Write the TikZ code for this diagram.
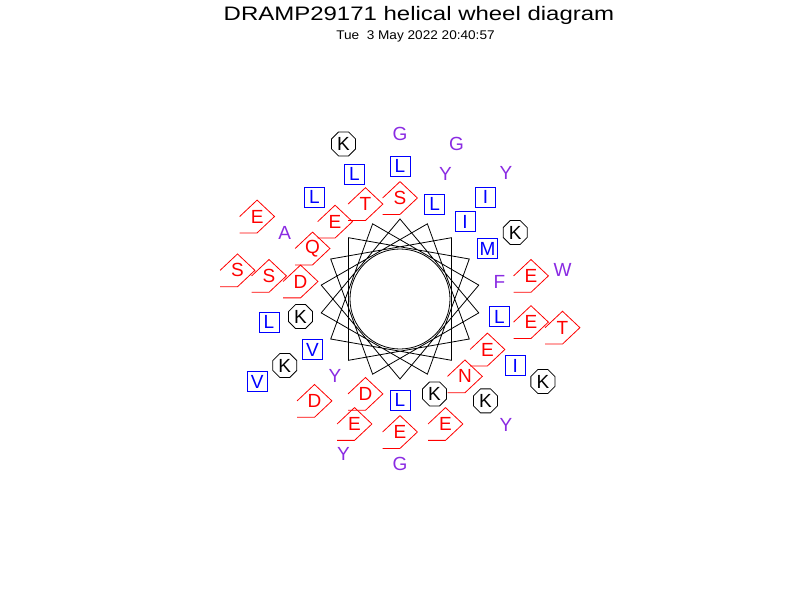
\documentclass[tikz,border=0pt]{standalone}
\usepackage{fontspec}
\setmainfont{Liberation Sans}
\usepackage{graphicx}
\usetikzlibrary{shapes.geometric}
\definecolor{wheelpurple}{RGB}{138,43,226}

\begin{document}
\begin{tikzpicture}[x = 1pt, y = 1pt, line width = .8pt,
    every node/.style = {inner sep = 0pt, font = \fontsize{19}{19}\selectfont},
    hyd/.style = {draw = blue, text = blue, minimum size = 20pt},
    chg/.style = {draw, regular polygon, regular polygon sides = 8, minimum size = 26pt},
    pol/.style = {text = red, minimum width = 34pt, minimum height = 32pt,
      append after command = {\pgfextra{\draw[red] (\tikzlastnode.west) -- (\tikzlastnode.north)
        -- (\tikzlastnode.east) -- (\tikzlastnode.south) -- (\tikzlastnode.south west);}}},
    oth/.style = {text = wheelpurple}]
    \useasboundingbox (-400,-301) rectangle (400,299);
    \node (title) at (19,278) [anchor = base, font = \fontsize{19.5}{20}\selectfont]
      {\scalebox{1.23}[1]{DRAMP29171 helical wheel diagram}};
    \node (date) at (15.5,259) [anchor = base, font = \fontsize{12.6}{13}\selectfont]
      {\scalebox{1.08}[1]{Tue\ \ 3 May 2022 20:40:57}};
    % the wheel in the middle
    \draw (90:80) -- (-10:80) -- (-110:80) -- (150:80) -- (50:80) -- (-50:80)
      -- (-150:80) -- (110:80) -- (10:80) -- (-90:80) -- (170:80) -- (70:80)
      -- (-30:80) -- (-130:80) -- (130:80) -- (30:80) -- (-70:80) -- (-170:80) -- cycle;
    \draw (0,0) circle (50pt);
    % first turn
    \node[pol] (r1) at (90:101) {S};
    \node[hyd] (r2) at (-10:101) {L};
    \node[pol] (r3) at (-110:101) {D};
    \node[pol] (r4) at (150:101) {Q};
    \node[hyd] (r5) at (50:101) {I};
    \node[pol] (r6) at (-50:101) {N};
    \node[hyd] (r7) at (-150:101) {V};
    \node[pol] (r8) at (110:101) {T};
    \node[oth] (r9) at (10:101) {F};
    \node[hyd] (r10) at (-90:101) {L};
    \node[pol] (r11) at (170:101) {D};
    \node[hyd] (r12) at (70:101) {L};
    \node[pol] (r13) at (-30:101) {E};
    \node[oth] (r14) at (-130:101) {Y};
    \node[pol] (r15) at (130:101) {E};
    \node[hyd] (r16) at (30:101) {M};
    \node[chg] (r17) at (-70:101) {K};
    \node[chg] (r18) at (-170:101) {K};
    % second turn
    \node[hyd] (r19) at (90:133) {L};
    \node[pol] (r20) at (-10:133) {E};
    \node[pol] (r21) at (-110:133) {E};
    \node[oth] (r22) at (150:133) {A};
    \node[hyd] (r23) at (50:133) {I};
    \node[chg] (r24) at (-50:133) {K};
    \node[chg] (r25) at (-150:133) {K};
    \node[hyd] (r26) at (110:133) {L};
    \node[pol] (r27) at (10:133) {E};
    \node[pol] (r28) at (-90:133) {E};
    \node[pol] (r29) at (170:133) {S};
    \node[oth] (r30) at (70:133) {Y};
    \node[hyd] (r31) at (-30:133) {I};
    \node[pol] (r32) at (-130:133) {D};
    \node[hyd] (r33) at (130:133) {L};
    \node[chg] (r34) at (30:133) {K};
    \node[pol] (r35) at (-70:133) {E};
    \node[hyd] (r36) at (-170:133) {L};
    % third turn
    \node[oth] (r37) at (90:165) {G};
    \node[pol] (r38) at (-10:165) {T};
    \node[oth] (r39) at (-110:165) {Y};
    \node[pol] (r40) at (150:165) {E};
    \node[oth] (r41) at (50:165) {Y};
    \node[oth] (r42) at (-50:165) {Y};
    \node[hyd] (r43) at (-150:165) {V};
    \node[chg] (r44) at (110:165) {K};
    \node[oth] (r45) at (10:165) {W};
    \node[oth] (r46) at (-90:165) {G};
    \node[pol] (r47) at (170:165) {S};
    \node[oth] (r48) at (70:165) {G};
    \node[chg] (r49) at (-30:165) {K};
\end{tikzpicture}
\end{document}
